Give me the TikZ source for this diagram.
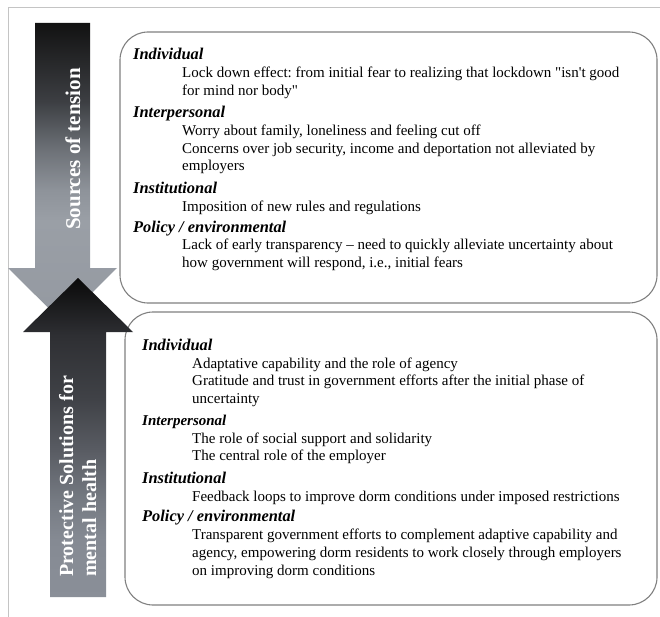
\documentclass[tikz,border=0pt]{standalone}
\usepackage{fontspec}
\setmainfont{Liberation Serif}[Ligatures=TeXOff]
\frenchspacing
\definecolor{frameGray}{HTML}{C4C4C4}
\definecolor{boxGray}{HTML}{808080}
\definecolor{dA}{HTML}{9499A1}
\definecolor{dB}{HTML}{9A9FA6}
\definecolor{dC}{HTML}{8E939A}
\definecolor{dD}{HTML}{6C7076}
\definecolor{dE}{HTML}{3C3E42}
\definecolor{dF}{HTML}{121212}
\definecolor{uA}{HTML}{8A8F98}
\definecolor{uB}{HTML}{858A93}
\definecolor{uC}{HTML}{767B83}
\definecolor{uD}{HTML}{595C63}
\definecolor{uE}{HTML}{404247}
\definecolor{uF}{HTML}{2E2F33}
\definecolor{uG}{HTML}{0A0A0A}
\pgfdeclareverticalshading{downsh}{100bp}{color(0bp)=(dA); color(25bp)=(dA); color(42bp)=(dB); color(47bp)=(dC); color(54bp)=(dD); color(62bp)=(dE); color(75bp)=(dF); color(100bp)=(dF)}
\pgfdeclareverticalshading{upsh}{100bp}{color(0bp)=(uA); color(25bp)=(uA); color(34bp)=(uB); color(40bp)=(uC); color(48bp)=(uD); color(56bp)=(uE); color(66bp)=(uF); color(75bp)=(uG); color(100bp)=(uG)}
\tikzset{
  hd/.style={anchor=base west, inner sep=0pt, font=\fontsize{16.4}{18}\selectfont\bfseries\itshape},
  hdsmall/.style={anchor=base west, inner sep=0pt, font=\fontsize{15}{17}\selectfont\bfseries\itshape},
  bd/.style={anchor=base west, inner sep=0pt, font=\fontsize{15}{17.5}\selectfont},
  panel/.style={draw=boxGray, line width=1.1pt, rounded corners=28pt},
  arrowlabel/.style={anchor=base west, inner sep=0pt, rotate=90, text=white, font=\bfseries},
}
\begin{document}
\begin{tikzpicture}[x=1pt,y=-1pt]
\useasboundingbox (0,0) rectangle (660,617);
% outer frame
\draw[frameGray, line width=0.9pt] (8,617) -- (8,7) -- (660,7);
% panels
\draw[panel] (120,32) rectangle (657,303);
\draw[panel] (125,312) rectangle (657,605);
% arrows
\path[shading=downsh] (35,23) -- (90,23) -- (90,268) -- (117,268) -- (62.5,322) -- (8,268) -- (35,268) -- cycle;
\path[shading=upsh] (78,278) -- (133,332) -- (106,332) -- (106,597) -- (50,597) -- (50,332) -- (23,332) -- cycle;
\node[arrowlabel, font=\fontsize{21}{24}\selectfont\bfseries] (srcLbl) at (80,230) {Sources of tension};
\node[arrowlabel, font=\fontsize{20}{23}\selectfont\bfseries] (protLbl1) at (73,577) {Protective Solutions for};
\node[arrowlabel, font=\fontsize{20}{23}\selectfont\bfseries] (protLbl2) at (96,577) {mental health};
% top panel text
\node[hd] (tH1) at (133,60) {Individual};
\node[bd] (tB1) at (182,78) {Lock down effect: from initial fear to realizing that lockdown "isn't good};
\node[bd] (tB2) at (182,95.5) {for mind nor body"};
\node[hd] (tH2) at (133,118) {Interpersonal};
\node[bd] (tB3) at (182,136) {Worry about family, loneliness and feeling cut off};
\node[bd] (tB4) at (182,153.5) {Concerns over job security, income and deportation not alleviated by};
\node[bd] (tB5) at (182,171) {employers};
\node[hd] (tH3) at (133,194) {Institutional};
\node[bd] (tB6) at (182,212) {Imposition of new rules and regulations};
\node[hd] (tH4) at (133,233) {Policy / environmental};
\node[bd] (tB7) at (182,250) {Lack of early transparency – need to quickly alleviate uncertainty about};
\node[bd] (tB8) at (182,267.5) {how government will respond, i.e., initial fears};
% bottom panel text
\node[hd] (bH1) at (142,350) {Individual};
\node[bd] (bB1) at (192,368) {Adaptative capability and the role of agency};
\node[bd] (bB2) at (192,385.5) {Gratitude and trust in government efforts after the initial phase of};
\node[bd] (bB3) at (192,403) {uncertainty};
\node[hdsmall] (bH2) at (142,425) {Interpersonal};
\node[bd] (bB4) at (192,443) {The role of social support and solidarity};
\node[bd] (bB5) at (192,460.5) {The central role of the employer};
\node[hd] (bH3) at (142,483) {Institutional};
\node[bd] (bB6) at (192,501) {Feedback loops to improve dorm conditions under imposed restrictions};
\node[hd] (bH4) at (142,521) {Policy / environmental};
\node[bd] (bB7) at (192,539) {Transparent government efforts to complement adaptive capability and};
\node[bd] (bB8) at (192,557) {agency, empowering dorm residents to work closely through employers};
\node[bd] (bB9) at (192,575) {on improving dorm conditions};
\end{tikzpicture}
\end{document}
